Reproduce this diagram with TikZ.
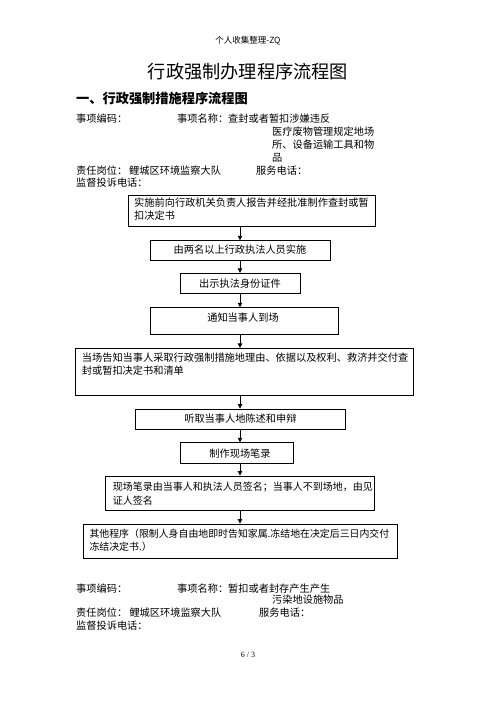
\documentclass[tikz,border=0pt]{standalone}
\usepackage{fontspec}
\setmainfont{Liberation Serif}
\newfontfamily\cjk{Noto Sans CJK SC}
\usetikzlibrary{arrows.meta}
\begin{document}
\begin{tikzpicture}[x=1pt,y=-1pt,
  box/.style={draw, line width=0.9pt, inner sep=0pt},
  txt/.style={inner sep=0pt, anchor=west, font=\cjk\fontsize{10.2}{13.4}\selectfont},
  ctxt/.style={inner sep=0pt, anchor=center, font=\cjk\fontsize{10.2}{13.4}\selectfont},
  btxt/.style={inner sep=0pt, anchor=base west, align=left, font=\cjk\fontsize{10.2}{13.4}\selectfont},
  arr/.style={-{Triangle[length=4.5pt,width=4.5pt]}, line width=0.9pt}]
\useasboundingbox (0,0) rectangle (496,702);
% header and titles
\node[inner sep=0pt, font=\cjk\fontsize{8.5}{10}\selectfont] (hdr) at (248,40.7) {个人收集整理-ZQ};
\node[inner sep=0pt, font=\cjk\fontsize{18.2}{20}\selectfont] (title) at (248,71.7) {行政强制办理程序流程图};
\node[inner sep=0pt, anchor=west, font=\cjk\bfseries\fontsize{13.2}{15}\selectfont] (head) at (76,98.3) {一、行政强制措施程序流程图};
% info top
\node[txt] (i1) at (76,118.5) {事项编码：};
\node[txt] (i2) at (177,118.5) {事项名称：查封或者暂扣涉嫌违反};
\node[txt] (i3) at (272,131.5) {医疗废物管理规定地场};
\node[txt] (i4) at (272,144.5) {所、设备运输工具和物};
\node[txt] (i5) at (272,157.5) {品};
\node[txt] (i6) at (76,170.5) {责任岗位：};
\node[txt] (i7) at (129,170.5) {鲤城区环境监察大队};
\node[txt] (i8) at (256,170.5) {服务电话：};
\node[txt] (i9) at (76,183) {监督投诉电话：};
% boxes
\node[box, minimum width=246.7pt, minimum height=31pt] (b1) at (251.65,210.5) {};
\node[box, minimum width=179.3pt, minimum height=20pt] (b2) at (240.35,250.7) {};
\node[box, minimum width=120pt, minimum height=20pt] (b3) at (240.7,283.3) {};
\node[box, minimum width=188pt, minimum height=26.3pt] (b4) at (244.7,320.85) {};
\node[box, minimum width=337.6pt, minimum height=46.7pt] (b5) at (244.5,371.65) {};
\node[box, minimum width=210pt, minimum height=20pt] (b6) at (240.3,419) {};
\node[box, minimum width=113.3pt, minimum height=20.6pt] (b7) at (236.65,453) {};
\node[box, minimum width=269pt, minimum height=34.7pt] (b8) at (239.8,493.35) {};
\node[box, minimum width=314pt, minimum height=34.3pt] (b9) at (240.3,541.15) {};
% box texts (base = baseline of last line)
\node[btxt] (t1) at (134,219.6) {实施前向行政机关负责人报告并经批准制作查封或暂\\扣决定书};
\node[ctxt] (t2) at (240,250) {由两名以上行政执法人员实施};
\node[ctxt] (t3) at (240,283.3) {出示执法身份证件};
\node[ctxt] (t4) at (243,317.3) {通知当事人到场};
\node[btxt] (t5) at (81.7,374.6) {当场告知当事人采取行政强制措施地理由、依据以及权利、救济并交付查\\封或暂扣决定书和清单};
\node[ctxt] (t6) at (240.4,419) {听取当事人地陈述和申辩};
\node[ctxt] (t7) at (240,453.3) {制作现场笔录};
\node[btxt, font=\cjk\fontsize{10}{13.4}\selectfont] (t8) at (112.7,504) {现场笔录由当事人和执法人员签名；当事人不到场地，由见\\证人签名};
\node[btxt, font=\cjk\fontsize{9.9}{13.4}\selectfont] (t9) at (89.3,550.6) {其他程序（限制人身自由地即时告知家属.冻结地在决定后三日内交付\\冻结决定书.）};
% arrows
\coordinate (ax) at (240,0);
\draw[arr] (b1.south -| ax) -- (b2.north -| ax);
\draw[arr] (b2.south -| ax) -- (b3.north -| ax);
\draw[arr] (b3.south -| ax) -- (b4.north -| ax);
\draw[arr] (b4.south -| ax) -- (b5.north -| ax);
\draw[arr] (b5.south -| ax) -- (b6.north -| ax);
\draw[arr] (b6.south -| ax) -- (b7.north -| ax);
\draw[arr] (b7.south -| ax) -- (b8.north -| ax);
\draw[arr] (b8.south -| ax) -- (b9.north -| ax);
% info bottom
\node[txt] (j1) at (76,588.3) {事项编码：};
\node[txt] (j2) at (177,588.3) {事项名称：暂扣或者封存产生产生};
\node[txt] (j3) at (272,599.5) {污染地设施物品};
\node[txt] (j4) at (76,612.7) {责任岗位：};
\node[txt] (j5) at (129.3,612.7) {鲤城区环境监察大队};
\node[txt] (j6) at (259,612.7) {服务电话：};
\node[txt] (j7) at (76,625.7) {监督投诉电话：};
% footer
\node[inner sep=0pt, font=\fontsize{8}{10}\selectfont] (ftr) at (248,655) {6 / 3};
\end{tikzpicture}
\end{document}
